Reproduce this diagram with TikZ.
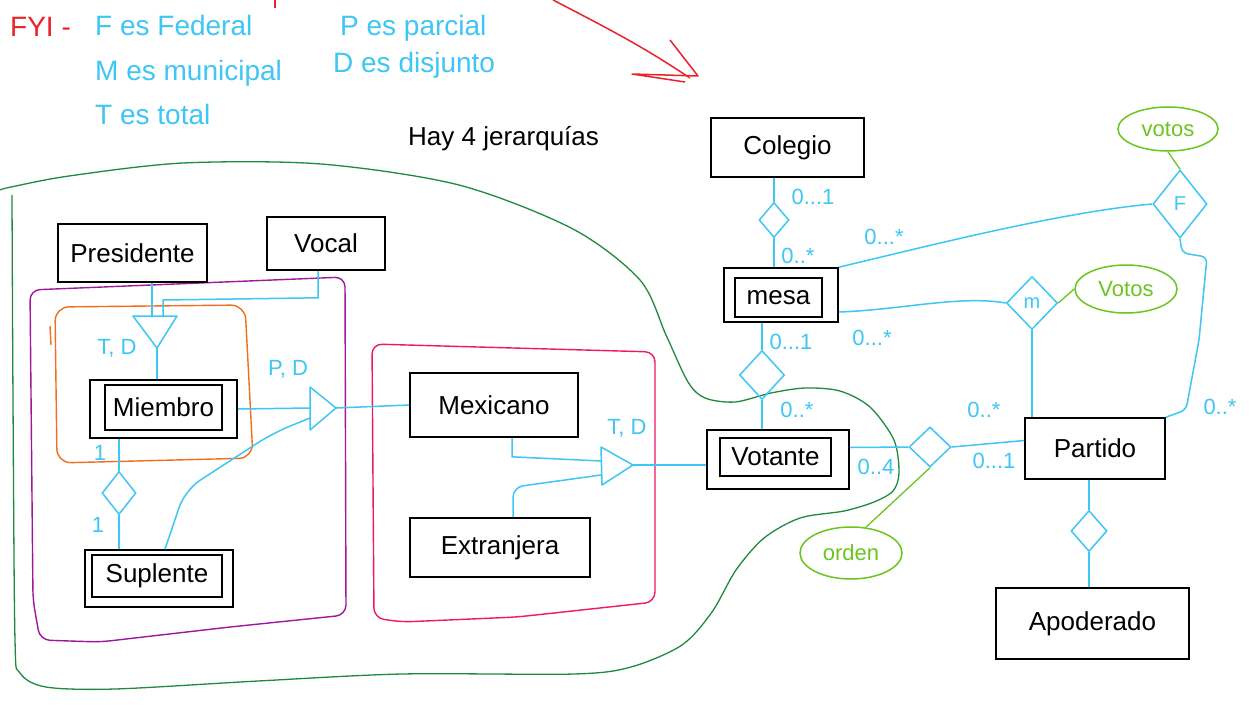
\documentclass[tikz,border=0pt]{standalone}
\usepackage{fontspec}
\setmainfont{Liberation Sans}
\usetikzlibrary{shapes.geometric,calc}
\definecolor{hblue}{HTML}{3EC6F4}
\definecolor{agreen}{HTML}{6CC51E}
\definecolor{dgreen}{HTML}{1F8A3F}
\definecolor{hpurple}{HTML}{A0169C}
\definecolor{horange}{HTML}{F26E1F}
\definecolor{hpink}{HTML}{F01668}
\definecolor{hred}{HTML}{E8232B}
\begin{document}
\begin{tikzpicture}[x=1pt,y=-1pt,
  ent/.style={draw=black,line width=1.6pt,inner sep=0pt,font=\fontsize{26}{30}\selectfont},
  entin/.style={draw=black,line width=1.4pt,inner sep=0pt,font=\fontsize{26}{30}\selectfont},
  rel/.style={draw=hblue,diamond,line width=1.5pt,inner sep=0pt,text=hblue,font=\fontsize{20}{22}\selectfont},
  attr/.style={draw=agreen,ellipse,line width=1.5pt,inner sep=0pt,text=agreen,font=\fontsize{22}{24}\selectfont},
  conn/.style={draw=hblue,line width=1.5pt},
  aconn/.style={draw=agreen,line width=1.3pt},
  card/.style={text=hblue,font=\fontsize{22}{24}\selectfont,inner sep=0pt},
  isalab/.style={text=hblue,font=\fontsize{22}{24}\selectfont,inner sep=0pt},
  note/.style={text=hblue,font=\fontsize{28}{32}\selectfont,anchor=base west,inner sep=0pt},
  isa/.style={draw=hblue,line width=1.5pt,line join=round},
  region/.style={line width=1.4pt,rounded corners=10pt},
]
\useasboundingbox[fill=white] (0,0) rectangle (1251,713);

% ---- top notes ----
\node[text=hred,font=\fontsize{28}{32}\selectfont,anchor=base west,inner sep=0pt] (fyi) at (10,36) {FYI -};
\node[note] (n1) at (95,35) {F es Federal};
\node[note] (n2) at (340,35) {P es parcial};
\node[note] (n3) at (95,80) {M es municipal};
\node[note] (n4) at (333,72) {D es disjunto};
\node[note] (n5) at (95,124) {T es total};
\node[text=black,font=\fontsize{26}{30}\selectfont,anchor=base west,inner sep=0pt] (hay) at (408,145) {Hay 4 jerarquías};
\draw[hred,line width=1.5pt] (275,0) -- (275,8);
\draw[hred,line width=1.5pt] (553,0) .. controls (615,32) and (645,48) .. (690,78);
\draw[hred,line width=1.5pt,line join=round] (670,40) -- (698,76) -- (632,74) -- (685,82);

% ---- grouping outlines ----
\draw[dgreen,line width=1.3pt] plot[smooth] coordinates {(0,190) (11,187) (69,176) (183,163) (321,164) (459,185) (573,229) (640,280) (666,335) (688,382) (705,398) (735,402) (771,393) (805,388) (840,391) (870,407) (894,440) (899,473) (893,491) (874,502) (844,511) (800,518) (764,538) (736,570) (712,612) (682,645) (631,667) (574,674) (402,674) (258,681) (115,689) (46,687) (20,673) (15,640) (13,400) (12,195)};
\draw[hpurple,region] (30,290) -- (345,277) -- (346,615) -- (230,627) -- (100,642) -- (40,640) -- (33,600) -- cycle;
\draw[horange,region,rounded corners=14pt] (55,307) -- (245,305) -- (253,458) -- (57,463) -- cycle;
\draw[horange,line width=1.4pt] (50,326) -- (51,345);
\draw[hpink,region] (372,344) -- (655,352) -- (655,602) -- (517,617) -- (402,622) -- (374,618) -- cycle;

% ---- entities ----
\node[ent,minimum width=149pt,minimum height=58pt] (pres) at (132.5,253) {Presidente};
\node[ent,minimum width=118pt,minimum height=53pt] (vocal) at (326,243.5) {Vocal};
\node[ent,minimum width=147pt,minimum height=58pt] (miem) at (163.5,409) {};
\node[entin,minimum width=117pt,minimum height=45pt] (miemin) at (163.5,407.5) {Miembro};
\node[ent,minimum width=148pt,minimum height=57pt] (sup) at (159,578.5) {};
\node[entin,minimum width=130pt,minimum height=42pt] (supin) at (157,576) {Suplente};
\node[ent,minimum width=168pt,minimum height=64pt] (mex) at (494,405) {Mexicano};
\node[ent,minimum width=180pt,minimum height=59pt] (ext) at (500,547.5) {Extranjera};
\node[ent,minimum width=153pt,minimum height=59pt] (col) at (787.5,147.5) {Colegio};
\node[ent,minimum width=114pt,minimum height=54pt] (mesa) at (781,295) {};
\node[entin,minimum width=87pt,minimum height=39pt] (mesain) at (778.5,297.5) {mesa};
\node[ent,minimum width=142pt,minimum height=59pt] (vot) at (778,459.5) {};
\node[entin,minimum width=111pt,minimum height=38pt] (votin) at (775.5,457) {Votante};
\node[ent,minimum width=140pt,minimum height=61pt] (part) at (1095,448.5) {Partido};
\node[ent,minimum width=193pt,minimum height=71pt] (apo) at (1092.5,623.5) {Apoderado};

% ---- relationships ----
\node[rel,minimum width=34pt,minimum height=43pt] (dMS) at (119,493) {};
\node[rel,minimum width=30pt,minimum height=35pt] (dCM) at (774,220) {};
\node[rel,minimum width=45pt,minimum height=49pt] (dMV) at (762,375) {};
\node[rel,minimum width=51pt,minimum height=53pt] (dM) at (1032,303) {m};
\node[rel,minimum width=54pt,minimum height=68pt] (dF) at (1180,204) {F};
\node[rel,minimum width=42pt,minimum height=40pt] (dV) at (930,447) {};
\node[rel,minimum width=36pt,minimum height=41pt] (dPA) at (1089,531) {};

% ---- attributes ----
\node[attr,minimum width=100pt,minimum height=44pt] (votos1) at (1168,129) {votos};
\node[attr,minimum width=102pt,minimum height=48pt] (votos2) at (1126,289) {Votos};
\node[attr,minimum width=102pt,minimum height=52pt] (orden) at (851,553) {orden};

% ---- ISA triangles ----
\coordinate (t1l) at (133,316); \coordinate (t1r) at (177,316); \coordinate (t1a) at (157,348);
\coordinate (t1p) at (152,316); \coordinate (t1v) at (163,316);
\draw[isa] (t1l) -- (t1r) -- (t1a) -- cycle;
\coordinate (t2t) at (310,387); \coordinate (t2b) at (310,430); \coordinate (t2a) at (336,408);
\coordinate (t2m) at (310,408); \coordinate (t2s) at (310,418);
\draw[isa] (t2t) -- (t2a) -- (t2b) -- cycle;
\coordinate (t3t) at (601,447); \coordinate (t3b) at (602,485); \coordinate (t3a) at (633,465);
\coordinate (t3m) at (601,461); \coordinate (t3e) at (601,475);
\draw[isa] (t3t) -- (t3a) -- (t3b) -- cycle;

% ---- connectors ----
\draw[conn] (pres.south -| t1p) -- (t1p);
\draw[conn] ($(vocal.south)+(-8,0)$) -- ++(0,27) -- (163,300) -- (t1v);
\draw[conn] (t1a) -- (t1a |- miem.north);
\draw[conn] (miem.east) -- (t2m);
\draw[conn,rounded corners=18pt] ($(sup.north)+(6,0)$) -- (185,490) -- (273,433) -- (t2s);
\draw[conn] (t2a) -- (mex.west);
\draw[conn] (dMS.north |- miem.south) -- (dMS.north);
\draw[conn] (dMS.south) -- (dMS.south |- sup.north);
\draw[conn] ($(mex.south)+(18,0)$) -- ++(0,19) -- (t3m);
\draw[conn,rounded corners=10pt] ($(ext.north)+(13,0)$) -- ++(0,-30) -- (t3e);
\draw[conn] (t3a) -- (t3a -| vot.west);
\draw[conn] (dCM.north |- col.south) -- (dCM.north);
\draw[conn] (dCM.south) -- (dCM.south |- mesa.north);
\draw[conn] (dMV.north |- mesa.south) -- (dMV.north);
\draw[conn] (dMV.south) -- (dMV.south |- vot.north);
\draw[conn] ($(mesa.east)+(0,17)$) .. controls (900,310) and (960,295) .. (dM.west);
\draw[aconn] (dM.east) -- (votos2.west);
\draw[conn] (dM.south) -- (dM.south |- part.north);
\draw[conn] (mesa.north east) .. controls (920,248) and (1060,212) .. (dF.west);
\draw[aconn] (dF.north) -- (votos1.south);
\draw[conn,rounded corners=6pt] (dF.south) -- (1182,253) -- (1207,257) -- (1199,340) -- (1186,410) -- (part.north east);
\draw[conn] ($(vot.east)+(0,-12)$) -- (dV.west);
\draw[conn] (dV.east) -- ($(part.west)+(0,-8)$);
\draw[aconn] (dV.south) -- (orden.60);
\draw[conn] (dPA.north |- part.south) -- (dPA.north);
\draw[conn] (dPA.south) -- (dPA.south |- apo.north);

% ---- labels ----
\node[isalab] (l1) at (117,348) {T, D};
\node[isalab] (l2) at (288,369) {P, D};
\node[isalab] (l3) at (627,428) {T, D};
\node[card] (k1) at (100,453) {1};
\node[card] (k2) at (98,525) {1};
\node[card] (k3) at (813,197) {0...1};
\node[card] (k4) at (798,256) {0..*};
\node[card] (k5) at (884,237) {0...*};
\node[card] (k6) at (791,342) {0...1};
\node[card] (k7) at (872,338) {0...*};
\node[card] (k8) at (797,410) {0..*};
\node[card] (k9) at (876,467) {0..4};
\node[card] (k10) at (984,410) {0..*};
\node[card] (k11) at (994,461) {0...1};
\node[card] (k12) at (1220,407) {0..*};
\end{tikzpicture}
\end{document}
